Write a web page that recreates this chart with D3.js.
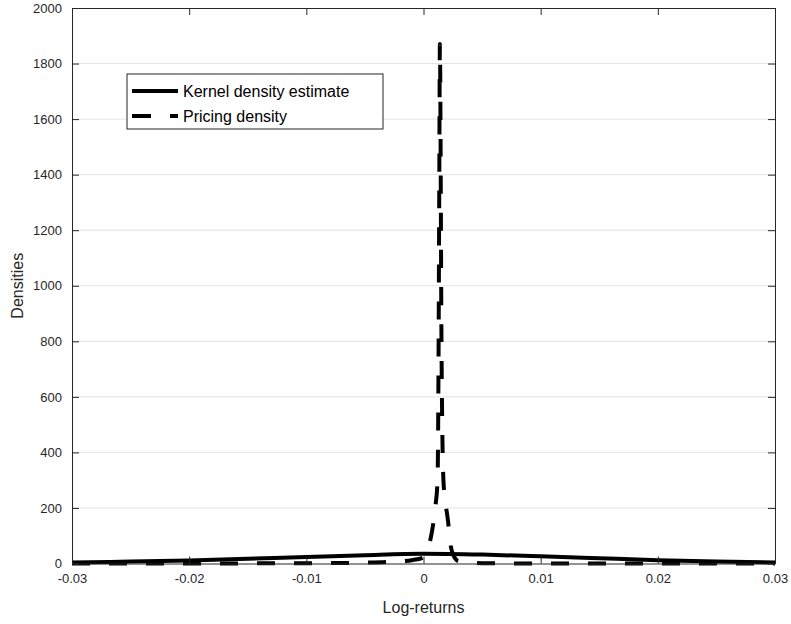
<!DOCTYPE html>
<html><head><meta charset="utf-8">
<script src="https://cdn.jsdelivr.net/npm/d3@7"></script>
<style>body{margin:0;background:#fff}svg{display:block}</style>
</head><body>
<script>
const xTicks = [-0.03, -0.02, -0.01, 0, 0.01, 0.02, 0.03];
const xTickLabels = ["-0.03", "-0.02", "-0.01", "0", "0.01", "0.02", "0.03"];
const yTicks = [0, 200, 400, 600, 800, 1000, 1200, 1400, 1600, 1800, 2000];
const kernelX = [-0.03, -0.025, -0.02, -0.015, -0.01, -0.005, 0, 0.005, 0.01, 0.015, 0.02, 0.025, 0.03];
const kernelY = [4, 7, 11, 17, 23, 30, 35, 32, 26, 19, 12, 7, 4];
const pricingX = [-0.03, -0.02, -0.01, -0.005, -0.002, -0.001, 0, 0.0004, 0.0007, 0.001, 0.0012, 0.00128, 0.00134, 0.0014, 0.00146, 0.00152, 0.0016, 0.0017, 0.00185, 0.0021, 0.0023, 0.0025, 0.003, 0.005, 0.01, 0.02, 0.03];
const pricingY = [0, 0.2, 1, 3, 8, 12, 22, 55, 110, 200, 300, 700, 1300, 1870, 1500, 900, 500, 300, 230, 150, 70, 35, 8, 1, 0, 0, 0];
const legendLabels = ["Kernel density estimate", "Pricing density"];

const W = 791, H = 624;
const svg = d3.select("body").append("svg").attr("width", W).attr("height", H);
const x = d3.scaleLinear().domain([-0.03, 0.03]).range([72, 775]);
const y = d3.scaleLinear().domain([0, 2000]).range([563.5, 8]);
const font = "'Liberation Sans', Arial, Helvetica, sans-serif";
const axisCol = "#262626";

// grid
svg.append("g").selectAll("line").data(yTicks.slice(1, -1)).join("line")
  .attr("x1", x(-0.03)).attr("x2", x(0.03))
  .attr("y1", d => y(d)).attr("y2", d => y(d))
  .attr("stroke", "#e3e3e3").attr("stroke-width", 1);

const kData = kernelX.map((d, i) => [d, kernelY[i]]);
const pData = pricingX.map((d, i) => [d, pricingY[i]]);
const line = d3.line().x(d => x(d[0])).y(d => y(d[1])).curve(d3.curveMonotoneX);

svg.append("clipPath").attr("id", "c").append("rect")
  .attr("x", x(-0.03)).attr("y", y(2000)).attr("width", x(0.03) - x(-0.03)).attr("height", y(0) - y(2000) + 3);

const g = svg.append("g").attr("clip-path", "url(#c)");
g.append("path").datum(kData).attr("d", line).attr("fill", "none")
  .attr("stroke", "#000").attr("stroke-width", 4);
g.append("path").datum(pData).attr("d", line).attr("fill", "none")
  .attr("stroke", "#000").attr("stroke-width", 4).attr("stroke-dasharray", "18,19");

// axes
const tickLen = 7;
const axB = svg.append("g").attr("transform", `translate(0,${y(0)})`)
  .call(d3.axisBottom(x).tickValues(xTicks).tickFormat((d, i) => xTickLabels[i]).tickSizeInner(-tickLen).tickSizeOuter(0).tickPadding(10));
const axT = svg.append("g").attr("transform", `translate(0,${y(2000)})`)
  .call(d3.axisTop(x).tickValues(xTicks).tickFormat("").tickSizeInner(-tickLen).tickSizeOuter(0));
const axL = svg.append("g").attr("transform", `translate(${x(-0.03)},0)`)
  .call(d3.axisLeft(y).tickValues(yTicks).tickFormat(d3.format("d")).tickSizeInner(-tickLen).tickSizeOuter(0).tickPadding(10));
const axR = svg.append("g").attr("transform", `translate(${x(0.03)},0)`)
  .call(d3.axisRight(y).tickValues(yTicks).tickFormat("").tickSizeInner(-tickLen).tickSizeOuter(0));
[axB, axT, axL, axR].forEach(a => {
  a.selectAll("path").attr("stroke", axisCol).attr("stroke-width", 1);
  a.selectAll("line").attr("stroke", axisCol);
  a.selectAll("text").attr("fill", axisCol).style("font-family", font).style("font-size", "13px");
});

// axis labels
svg.append("text").attr("x", x(0)).attr("y", 613).attr("text-anchor", "middle")
  .style("font-family", font).style("font-size", "16px").attr("fill", axisCol).text("Log-returns");
svg.append("text").attr("transform", `translate(23,${(y(0) + y(2000)) / 2}) rotate(-90)`)
  .attr("text-anchor", "middle").style("font-family", font).style("font-size", "16px").attr("fill", axisCol).text("Densities");

// legend
const lg = svg.append("g");
lg.append("rect").attr("x", 127).attr("y", 74).attr("width", 256).attr("height", 55)
  .attr("fill", "#fff").attr("stroke", axisCol).attr("stroke-width", 1);
legendLabels.forEach((t, i) => {
  const yy = 91 + i * 25;
  lg.append("line").attr("x1", 132).attr("x2", 178).attr("y1", yy).attr("y2", yy)
    .attr("stroke", "#000").attr("stroke-width", 4).attr("stroke-dasharray", i === 1 ? "19,19" : null);
  lg.append("text").attr("x", 183).attr("y", yy).attr("dy", "0.35em")
    .style("font-family", font).style("font-size", "16px").attr("fill", "#000").text(t);
});
</script>
</body></html>
